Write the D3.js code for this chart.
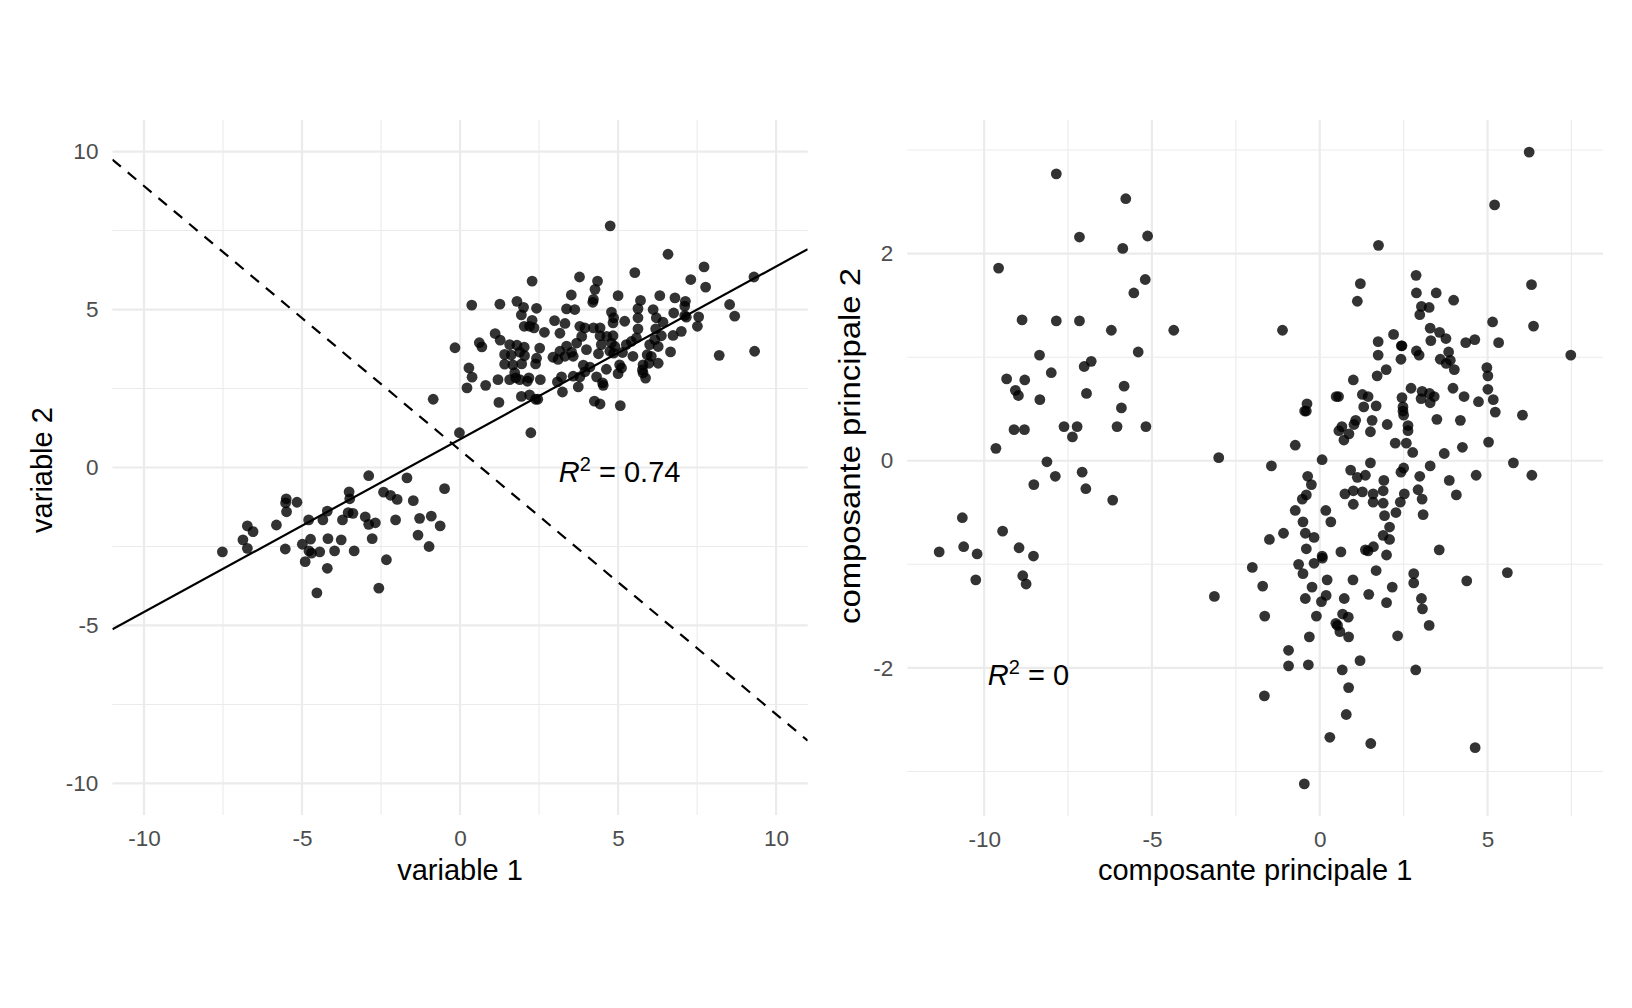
<!DOCTYPE html>
<html>
<head>
<meta charset="utf-8">
<script src="https://cdn.jsdelivr.net/npm/d3@7"></script>
<style>
  body { margin: 0; background: #fff; }
  text { font-family: "Liberation Sans", Arial, Helvetica, sans-serif; }
</style>
</head>
<body>
<div id="chart"></div>
<script>
// left panel : the two raw variables
const var1 = [4.75,2.28,3.78,4.35,4.27,4.22,4.2,3.52,0.37,1.26,1.8,2.01,2.42,1.94,3.37,3.63,2.99,3.32,2.28,2.03,2.2,2.34,2.67,1.11,1.27,0.61,0.69,-0.16,1.57,1.8,2.03,1.89,2.52,1.41,1.62,2.04,2.42,2.39,1.41,1.67,1.95,0.28,0.38,0.22,0.81,1.2,1.57,1.76,1.89,2.13,2.18,2.54,1.73,2.94,3.16,3.16,3.1,3.32,3.58,3.69,3.79,3.95,4.22,4.43,3.85,4.43,4.64,4.0,4.38,3.9,4.11,3.95,3.79,3.58,3.21,3.08,3.24,3.74,4.32,4.51,4.53,3.37,3.53,2.2,1.94,1.23,2.39,2.46,4.25,4.43,-0.85,-0.02,2.24,
  6.58,5.53,7.72,7.3,7.77,9.3,5.0,5.71,6.32,6.8,7.13,5.63,6.11,4.79,7.11,8.53,8.69,6.76,7.11,7.55,5.63,6.21,4.86,4.84,5.21,6.42,7.16,7.51,5.63,6.19,7.0,6.74,4.84,6.37,5.58,5.42,6.16,4.47,4.79,4.9,5.26,6.0,6.27,4.74,4.86,5.14,5.92,6.05,6.66,5.47,8.2,9.32,4.63,5.05,5.11,5.79,5.98,6.27,5.0,5.79,5.87,5.77,5.07,
  -2.89,-1.68,-0.49,-3.51,-3.49,-2.42,-2.2,-1.99,-1.48,-5.5,-5.52,-5.16,-5.49,-4.2,-4.79,-4.34,-3.72,-3.54,-3.39,-3.0,-2.89,-2.68,-2.04,-1.28,-0.91,-0.63,-6.73,-6.55,-6.87,-6.73,-5.81,-7.52,-5.53,-4.99,-4.73,-4.18,-3.76,-4.78,-4.7,-4.44,-4.9,-3.97,-3.35,-2.78,-4.2,-2.33,-1.33,-0.98,-4.53,-2.57];
const var2 = [7.65,5.9,6.03,5.9,5.64,5.32,5.23,5.46,5.14,5.17,5.26,5.07,5.04,4.83,5.02,5.0,4.65,4.56,4.66,4.47,4.47,4.42,4.28,4.24,4.03,3.95,3.82,3.79,3.89,3.87,3.81,3.65,3.78,3.58,3.56,3.54,3.46,3.28,3.27,3.25,3.28,3.15,2.86,2.52,2.6,2.78,2.78,2.84,2.78,2.73,2.84,2.78,3.0,3.49,4.25,3.68,3.42,3.52,3.52,3.94,4.47,4.42,4.42,4.42,4.15,4.17,4.15,3.73,3.6,3.24,3.18,3.03,2.87,2.89,2.87,2.71,2.39,2.55,2.87,2.68,2.6,3.84,3.65,2.3,2.25,2.06,2.16,2.16,2.1,2.01,2.16,1.1,1.1,
  6.75,6.17,6.35,5.95,5.71,6.03,5.44,5.29,5.44,5.37,5.26,5.03,5.0,4.92,5.11,5.16,4.79,4.89,4.81,4.77,4.74,4.74,4.74,4.58,4.63,4.6,4.76,4.47,4.39,4.39,4.31,4.18,4.17,4.17,4.1,3.99,4.05,3.89,3.94,3.83,3.89,3.89,3.83,3.68,3.62,3.64,3.57,3.52,3.66,3.52,3.55,3.68,3.11,3.25,3.15,3.25,3.3,3.3,2.97,2.99,2.83,3.09,1.96,
  -0.26,-0.33,-0.67,-0.77,-0.99,-0.78,-0.88,-1.01,-1.05,-0.99,-1.12,-1.1,-1.4,-1.38,-1.66,-1.66,-1.66,-1.43,-1.45,-1.56,-1.8,-1.75,-1.66,-1.61,-1.54,-1.85,-1.85,-2.03,-2.29,-2.56,-1.82,-2.67,-2.58,-2.43,-2.27,-2.25,-2.29,-2.64,-2.71,-2.67,-2.98,-2.64,-2.64,-2.25,-3.19,-2.92,-2.14,-2.5,-3.97,-3.82];

// right panel : principal components
const pc1 = [-7.85,-5.78,-7.16,-5.13,-5.87,-9.57,-5.2,-5.54,-8.87,-7.85,-7.16,-6.21,-4.35,-8.35,-5.41,-6.81,-7.02,-9.33,-8.79,-8.0,-9.07,-8.98,-8.34,-6.95,-5.83,-5.91,-9.11,-8.8,-7.62,-7.23,-7.37,-6.04,-5.18,-9.65,-8.13,-7.88,-8.52,-7.08,-6.97,-6.17,-10.65,-9.45,-11.34,-10.61,-10.21,-8.96,-8.53,-10.25,-8.85,-8.75,
  1.75,1.21,1.12,-1.11,1.74,1.74,1.98,1.71,1.0,0.49,0.56,1.27,1.44,1.31,1.68,-0.38,-0.45,-0.4,1.07,1.02,0.66,0.57,0.87,0.72,1.56,1.51,2.01,-0.73,-3.01,-1.44,0.07,1.51,0.92,
  -0.36,-0.25,1.12,1.36,1.91,-0.4,-0.52,0.75,1.0,1.27,1.59,1.59,1.89,1.89,1.0,-0.73,0.18,-0.5,0.33,-1.08,-1.5,-0.43,-0.17,1.93,1.89,-0.4,0.07,0.08,0.63,1.36,1.44,1.6,1.99,-0.63,-0.17,-0.5,-2.01,0.99,1.68,0.22,-0.23,-1.7,-3.14,-0.43,0.05,0.19,0.73,1.46,1.99,-1.64,-0.1,0.68,0.85,0.48,0.53,0.6,0.86,-0.31,-0.93,-0.93,-0.34,0.67,1.2,-1.65,0.86,0.79,0.3,1.52,-0.46,
  6.24,5.21,2.87,6.31,2.88,3.47,3.99,3.03,3.26,2.98,5.15,6.37,3.29,3.57,3.76,2.2,3.31,4.35,4.62,5.33,2.45,2.43,2.88,2.96,2.42,3.84,3.59,3.77,3.89,4.01,7.48,4.98,5.01,2.72,3.05,3.27,3.41,3.97,4.3,5.01,2.45,3.02,3.29,4.73,5.17,5.23,6.04,2.48,2.48,2.5,3.49,4.19,2.63,2.63,2.25,2.58,2.77,3.71,4.25,5.03,5.77,2.5,3.29,
  6.32,2.42,2.98,3.86,4.66,2.93,3.05,2.52,2.4,4.07,2.27,3.08,2.08,2.08,3.56,2.8,2.8,4.38,5.59,2.16,3.03,3.06,3.26,2.32,2.86,4.63];
const pc2 = [2.77,2.53,2.16,2.17,2.05,1.86,1.75,1.62,1.36,1.35,1.35,1.26,1.26,1.02,1.05,0.96,0.91,0.79,0.78,0.85,0.68,0.63,0.59,0.65,0.72,0.51,0.3,0.3,0.33,0.33,0.23,0.33,0.33,0.12,-0.01,-0.15,-0.23,-0.11,-0.27,-0.38,-0.55,-0.68,-0.88,-0.83,-0.9,-0.84,-0.92,-1.15,-1.11,-1.19,
  2.08,1.71,1.54,1.26,1.15,1.02,0.88,0.82,0.78,0.62,0.62,0.64,0.62,0.52,0.53,0.55,0.48,0.48,0.39,0.35,0.33,0.29,0.26,0.2,0.39,0.28,0.35,0.15,0.03,-0.05,0.01,-0.02,-0.09,
  -0.15,-0.23,-0.16,-0.14,-0.19,-0.33,-0.37,-0.32,-0.29,-0.3,-0.32,-0.4,-0.29,-0.41,-0.42,-0.48,-0.48,-0.59,-0.59,-0.7,-0.76,-0.7,-0.74,-0.53,-0.72,-0.85,-0.92,-0.94,-0.88,-0.86,-0.87,-0.83,-0.91,-1.0,-0.99,-1.09,-1.03,-1.15,-1.06,-1.15,-1.22,-1.21,-1.31,-1.33,-1.36,-1.3,-1.33,-1.29,-1.37,-1.5,-1.5,-1.48,-1.51,-1.57,-1.59,-1.65,-1.7,-1.7,-1.83,-1.98,-1.97,-2.02,-1.93,-2.27,-2.19,-2.45,-2.67,-2.73,-3.12,
  2.98,2.47,1.79,1.7,1.62,1.62,1.55,1.49,1.48,1.41,1.34,1.3,1.28,1.24,1.18,1.22,1.16,1.14,1.17,1.14,1.11,1.11,1.06,1.02,0.98,1.05,0.98,0.94,0.97,0.88,1.02,0.9,0.82,0.7,0.67,0.65,0.62,0.7,0.62,0.69,0.61,0.6,0.56,0.57,0.59,0.47,0.44,0.52,0.48,0.44,0.4,0.39,0.34,0.29,0.17,0.17,0.08,0.07,0.13,0.18,-0.02,-0.07,-0.05,
  -0.14,-0.11,-0.15,-0.19,-0.14,-0.28,-0.37,-0.32,-0.4,-0.33,-0.5,-0.52,-0.64,-0.76,-0.86,-1.09,-1.18,-1.16,-1.08,-1.22,-1.33,-1.43,-1.59,-1.69,-2.02,-2.77];

// fitted lines on the left panel (solid, dashed)
const lineIntercepts = [0.895, 0.55];
const lineSlopes = [0.547, -0.836];

const leftTicks = [-10, -5, 0, 5, 10];
const leftMinor = [-7.5, -2.5, 2.5, 7.5];
const rightXTicks = [-10, -5, 0, 5];
const rightXMinor = [-7.5, -2.5, 2.5, 7.5];
const rightYTicks = [-2, 0, 2];
const rightYMinor = [-3, -1, 1, 3];

const rSquared = ["0.74", "0"];
const annotX = [5.05, -8.68];
const annotY = [-0.15, -2.07];

const width = 1632, height = 1008;

const svg = d3.select("#chart")
  .append("svg")
    .attr("width", width)
    .attr("height", height);

svg.append("rect").attr("width", width).attr("height", height).attr("fill", "#fff");

function drawPanel(p) {
  const x = d3.scaleLinear().domain(p.xDomain).range([p.left, p.right]);
  const y = d3.scaleLinear().domain(p.yDomain).range([p.bottom, p.top]);

  const g = svg.append("g");
  const grid = g.append("g").attr("stroke", "#ebebeb").attr("fill", "none");

  grid.selectAll(".xminor").data(p.xMinor).enter().append("line")
    .attr("x1", d => x(d)).attr("x2", d => x(d))
    .attr("y1", p.top).attr("y2", p.bottom)
    .attr("stroke-width", 1.1);
  grid.selectAll(".yminor").data(p.yMinor).enter().append("line")
    .attr("y1", d => y(d)).attr("y2", d => y(d))
    .attr("x1", p.left).attr("x2", p.right)
    .attr("stroke-width", 1.1);
  grid.selectAll(".xmajor").data(p.xTicks).enter().append("line")
    .attr("x1", d => x(d)).attr("x2", d => x(d))
    .attr("y1", p.top).attr("y2", p.bottom)
    .attr("stroke-width", 2.2);
  grid.selectAll(".ymajor").data(p.yTicks).enter().append("line")
    .attr("y1", d => y(d)).attr("y2", d => y(d))
    .attr("x1", p.left).attr("x2", p.right)
    .attr("stroke-width", 2.2);

  // tick labels through d3 axes, no tick marks or domain line
  const xAxis = g.append("g")
    .attr("transform", `translate(0,${p.bottom})`)
    .call(d3.axisBottom(x).tickValues(p.xTicks).tickFormat(d => String(d)).tickSize(0).tickPadding(15.5));
  const yAxis = g.append("g")
    .attr("transform", `translate(${p.left},0)`)
    .call(d3.axisLeft(y).tickValues(p.yTicks).tickFormat(d => String(d)).tickSize(0).tickPadding(14));
  [xAxis, yAxis].forEach(a => {
    a.select(".domain").remove();
    a.selectAll("text")
      .attr("fill", "#4d4d4d")
      .style("font-size", "22.5px")
      .style("font-family", '"Liberation Sans", Arial, sans-serif');
  });

  // lines (clipped to panel)
  const clipId = "clip" + p.id;
  svg.append("clipPath").attr("id", clipId)
    .append("rect")
      .attr("x", p.left).attr("y", p.top)
      .attr("width", p.right - p.left).attr("height", p.bottom - p.top);

  if (p.lines) {
    g.append("g").attr("clip-path", `url(#${clipId})`)
      .selectAll("line").data(p.lines).enter().append("line")
      .attr("x1", x(p.xDomain[0])).attr("x2", x(p.xDomain[1]))
      .attr("y1", d => y(d.a + d.b * p.xDomain[0]))
      .attr("y2", d => y(d.a + d.b * p.xDomain[1]))
      .attr("stroke", "#000")
      .attr("stroke-width", 2.2)
      .attr("stroke-dasharray", (d, i) => i === 1 ? "11,9" : null);
  }

  g.append("g").selectAll("circle")
    .data(p.xs.map((v, i) => [v, p.ys[i]]))
    .enter().append("circle")
      .attr("cx", d => x(d[0]))
      .attr("cy", d => y(d[1]))
      .attr("r", 5.4)
      .attr("fill", "#000")
      .attr("fill-opacity", 0.8);

  // R^2 annotation
  const t = g.append("text")
    .attr("x", x(p.annot.x))
    .attr("y", y(p.annot.y))
    .attr("dy", "0.35em")
    .attr("text-anchor", "middle")
    .style("font-size", "29px")
    .attr("fill", "#000");
  t.append("tspan").style("font-style", "italic").text("R");
  t.append("tspan").attr("baseline-shift", "super").style("font-size", "20px").text("2");
  t.append("tspan").text(" = " + p.annot.label);

  // axis titles
  g.append("text")
    .attr("x", (p.left + p.right) / 2)
    .attr("y", 880)
    .attr("text-anchor", "middle")
    .style("font-size", "29px")
    .text(p.xTitle);
  const yt = g.append("text")
    .attr("transform", `translate(${p.yTitleX},${p.yTitleY}) rotate(-90)`)
    .attr("text-anchor", "middle")
    .style("font-size", "29px")
    .text(p.yTitle);
  if (p.yTitleLength) {
    yt.attr("textLength", p.yTitleLength).attr("lengthAdjust", "spacingAndGlyphs");
  }
}

drawPanel({
  id: "L", left: 112.4, right: 807.7, top: 120, bottom: 815,
  xDomain: [-11, 11], yDomain: [-11, 11],
  xTicks: leftTicks, yTicks: leftTicks, xMinor: leftMinor, yMinor: leftMinor,
  xs: var1, ys: var2,
  lines: lineIntercepts.map((a, i) => ({ a: a, b: lineSlopes[i] })),
  annot: { x: annotX[0], y: annotY[0], label: rSquared[0] },
  xTitle: "variable 1", yTitle: "variable 2", yTitleX: 52, yTitleY: 470
});

drawPanel({
  id: "R", left: 907.3, right: 1603, top: 120, bottom: 816,
  xDomain: [-12.29, 8.44], yDomain: [-3.43, 3.29],
  xTicks: rightXTicks, yTicks: rightYTicks, xMinor: rightXMinor, yMinor: rightYMinor,
  xs: pc1, ys: pc2,
  lines: null,
  annot: { x: annotX[1], y: annotY[1], label: rSquared[1] },
  xTitle: "composante principale 1", yTitle: "composante principale 2", yTitleX: 860, yTitleY: 446, yTitleLength: 356
});
</script>
</body>
</html>
